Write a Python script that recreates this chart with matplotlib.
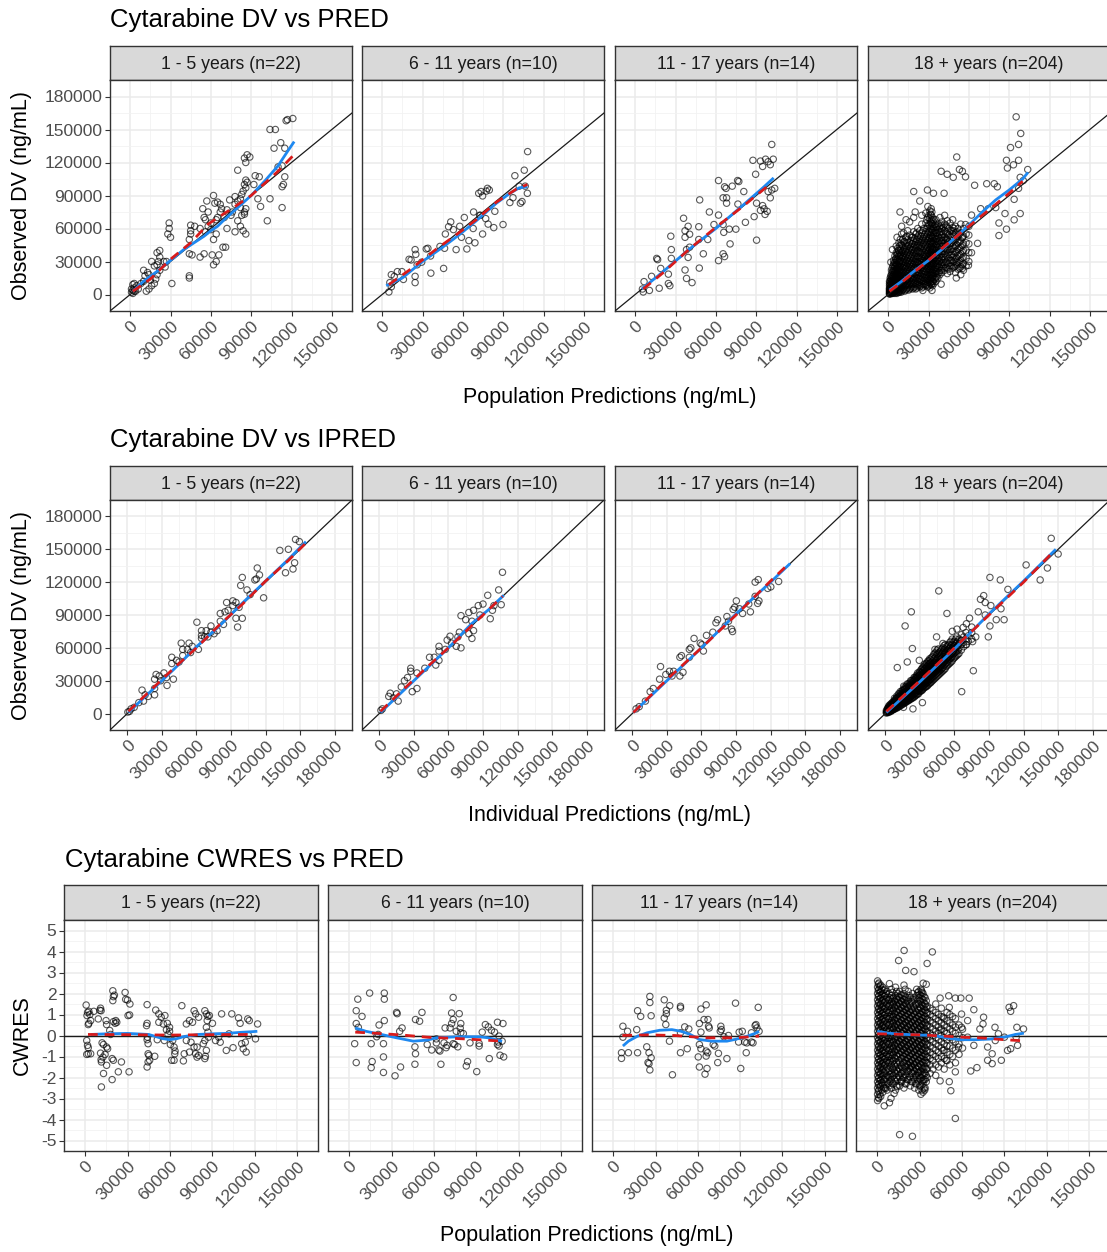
import matplotlib.pyplot as plt
import numpy as np

plt.rcParams['font.family'] = ['Liberation Sans', 'DejaVu Sans']

# ---- data (all concentrations in thousands of ng/mL) ----
STRIPS = ['1 - 5 years (n=22)', '6 - 11 years (n=10)', '11 - 17 years (n=14)', '18 + years (n=204)']
TITLES = ['Cytarabine DV vs PRED', 'Cytarabine DV vs IPRED', 'Cytarabine CWRES vs PRED']
XLABELS = ['Population Predictions (ng/mL)', 'Individual Predictions (ng/mL)', 'Population Predictions (ng/mL)']
YLABELS = ['Observed DV (ng/mL)', 'Observed DV (ng/mL)', 'CWRES']
CONC_TICKS_150 = [0, 30000, 60000, 90000, 120000, 150000]
CONC_TICKS_180 = [0, 30000, 60000, 90000, 120000, 150000, 180000]
CWRES_TICKS = [-5, -4, -3, -2, -1, 0, 1, 2, 3, 4, 5]

# DV vs PRED
pred_1_5 = [(121,160),(117,159),(116,158),(104,150),(108,150),(107,133),(112,138),(115,133),(113,117),(110,116),
            (115,107),(114,100),(113,98),(113,79),(104,87),(102,67),(97,80),(95,87),(96,107),(93,108),(92,100),
            (89,125),(86,120),(85,124),(87,127),(80,113),(86,104),(87,102),(85,100),(86,97),(84,94),(83,91),
            (82,87),(80,85),(78,89),(78,82),(82,79),(86,78),(85,75),(85,73),(83,72),(80,67),(82,62),(84,58),
            (86,55),(78,57),(76,75),(74,86),(75,72),(72,77),(70,70),(72,60),(69,43),(71,43),(66,36),(64,30),
            (62,27),(61,36),(62,50),(64,55),(60,59),(58,62),(56,57),(56,68),(57,85),(58,75),(62,90),(65,84),
            (63,83),(67,82),(68,78),(67,75),(65,70),(64,68),(60,65),(55,70),(54,78),(52,60),(48,62),(45,63),
            (45,58),(45,55),(44,50),(44,37),(46,36),(55,37),(52,34),(44,15),(44,17),(31,10),(29,65),(29,60),
            (28,55),(30,52),(22,40),(20,38),(22,34),(21,30),(20,27),(22,22),(20,18),(19,14),(18,10),(16,8),
            (14,5),(12,3),(13,20),(10,22),(11,17),(14,18),(18,26),(16,30),(25,30),(26,25),(27,30),(15,13),
            (10,12),(5,8),(3,6),(2,4),(1,2),(2,9),(3,10),(4,3),(6,5),(8,10),(2,1),(1,5),(3,3)]
pred_6_11 = [(108.2,129.9),(105.7,113),(98.7,108),(101.9,98.5),(106.4,98.5),(108,92),(104,84.5),(102.8,83),
             (97.3,88),(95,83.6),(89.9,63.6),(83,60.8),(78.8,64),(77,69),(83.8,75.6),(77.4,94),(78.3,96.5),
             (79.7,95),(73.6,93.6),(71.8,92),(74.7,89.6),(73,72),(68,75),(61.1,70),(67.7,60),(74.7,55),
             (64.5,49),(69,47),(63,41.4),(55,40.8),(57.7,62),(51,66),(49.4,61.6),(47,55),(46.4,42),(45.7,23.7),
             (36.2,19.4),(34,42),(32.8,41.4),(24.5,40.8),(25,36.5),(20,32),(21.5,31.4),(26,27),(24.5,16.5),
             (24.5,10.8),(15.8,13.7),(14.7,20.8),(9,16.5),(6.8,18),(5.7,10.8),(5,2.3),(6.8,7),(43,43.7),
             (53,59),(72.5,72),(59,52),(36,35),(29.4,29.4),(11.3,20.8)]
pred_11_17 = [(101.6,136.4),(87.6,122),(93.2,121.3),(97,123),(98.9,120.7),(102.7,123),(100.5,118),(94.8,116.4),
              (89.6,109.3),(77.1,102.7),(76.2,103.6),(72.2,98.5),(66.5,97.9),(67.6,96.5),(62,103.6),(80.8,93.6),
              (65.4,87.9),(68,87.9),(68,83),(76.4,82.2),(90.3,83),(94.8,80.8),(95.9,77.9),(98.2,75.6),(96.6,72.8),
              (93.2,76.5),(88.5,70.8),(100.5,87.9),(98.9,93.6),(103.8,96.5),(101.6,95),(62,72.2),(55.2,75),
              (48,86),(65.4,63.6),(65.9,56.5),(70,59.4),(74.9,59.4),(82,65.6),(70.6,46),(90.3,49.4),(65.4,37),
              (66.5,34.5),(62,30.8),(54,50),(47.3,50),(47.7,24),(50.7,37),(39.4,62),(36,69.3),(37.1,57.9),
              (37.1,52),(40.5,54.8),(26.9,40.8),(38.2,40.8),(40.5,43),(39.4,33.7),(37.1,22.3),(42.3,10.8),
              (38.2,14.6),(26.5,53),(26.9,32.8),(16,32.8),(16.7,31.7),(19,23.7),(24.7,18.5),(24.7,10),(25.8,8),
              (17.9,5.7),(12.2,16.5),(6.6,11.7),(5.4,5),(6,2.3),(10.6,3.7),(47.3,61.6),(58.6,63.6)]
pred_18_out = [(95.2,161.5),(98.6,146.4),(91,133.6),(97,136.4),(88,122),(97,122),(93.2,117.9),(88.7,115),
               (103.8,113.6),(98.2,106.5),(100.5,103.6),(97,96.5),(93.7,86.5),(98.2,73.6),(93.7,67.9),(86.9,73.6),
               (82.4,65),(88,59.4),(82.4,53.6),(80,79),(74.4,77.9),(73.3,100.7),(78.9,100.7),(81.2,97.9),
               (64.3,99.3),(57.5,107),(55.2,112),(53,113.6),(51,125),(39.4,112),(43.9,109.3),(48.4,106.5),
               (41.6,92),(19,93.6),(29.2,95),(33.7,92),(23.5,85),(20.1,75),(8.8,75),(13.3,68),(6.6,52),(3.2,40.8),
               (2,29.4),(50.7,15),(55.2,23.7),(59.7,26.5),(62,38),(66.5,46.5),(50.7,29.4),(43.9,49.4),(48.4,58),
               (55.2,52),(57.5,63.6),(62,72.2),(68.8,78),(39.4,9.4),(32.6,3.7),(25.8,3.7)]
pred_18_dense = {
    1: [0.5,1,2,3,4,5,6,8,10,12], 2: [1,2,3,5,7,9,11,14,17], 3: [1,2,4,6,8,10,13,16,20,24],
    4: [2,3,5,7,9,12,15,18,22,27,31], 5: [1,3,6,8,11,14,17,21,25,29,35],
    6: [2,4,7,10,13,16,20,24,28,33,38,44], 7: [3,5,8,11,15,19,23,27,32,37,42],
    8: [2,6,9,12,16,20,25,30,35,40,47], 9: [4,7,11,15,18,22,26,31,36,42,50],
    10: [3,6,10,14,19,23,28,33,38,45,55,62], 11.5: [5,9,13,17,21,26,30,35,41,48,56],
    13: [4,8,12,16,20,24,29,34,39,44,52], 14.5: [6,10,14,19,23,28,33,38,44,50,58],
    16: [5,9,13,17,22,27,31,36,42,47,54,66], 17.5: [7,11,15,20,25,29,34,40,46,52],
    19: [6,10,14,19,24,28,33,38,43,49,57,70], 20.5: [5,9,13,18,23,27,32,37,42,48,55],
    22: [8,12,17,21,26,30,35,40,46,52,60], 23.5: [7,11,15,20,25,30,34,39,45,50,58],
    25: [6,10,14,19,24,29,33,38,44,49,56,64,72], 26.5: [9,13,18,22,27,31,36,42,47,53,60],
    28: [8,12,16,21,26,30,35,40,45,51,57,65,74], 29.5: [7,11,15,20,24,29,34,38,43,49,55,62,70,80],
    31: [6,10,14,18,23,27,32,36,41,46,51,57,63,69,76], 32: [9,13,17,21,26,30,35,39,44,48,53,59,65,72,78],
    33: [8,12,16,20,25,29,33,38,42,47,52,58,64,70], 34: [10,14,19,23,28,32,37,41,46,51,56,62,68],
    35.5: [12,16,21,25,30,35,40,45,50,56,61,68], 37: [15,19,24,28,33,38,43,48,53,59,64],
    38.5: [18,22,27,31,36,41,46,51,57,62,70], 40: [20,25,29,34,39,44,49,54,60,66],
    42: [22,27,32,37,42,47,52,58,64,72], 44: [19,24,29,34,40,45,50,55,61,67],
    46: [21,26,31,36,41,46,52,58,65], 48: [24,29,34,39,44,49,55,61,68], 50: [20,26,32,38,44,50,56,62],
    52: [23,29,35,41,47,53,60], 54: [18,25,31,37,43,49,56,64], 56: [22,28,34,40,46,53,60],
    58: [26,33,40,47,55], 60: [30,38,46,54,62]}
pred_18_core = {
    1.5: [0.5,2,4,6,9,12,15], 2.5: [2,4,6,8,11,14,18,22], 3.5: [1,3,5,7,10,13,17,21,26],
    4.5: [2,4,7,10,13,16,20,24,29], 5.5: [3,5,8,11,14,18,22,27,32], 6.5: [1,4,6,9,12,15,19,23,27,31,36],
    7.5: [2,5,8,11,14,18,22,26,30,35,40], 8.5: [3,6,10,14,17,21,25,29,34,38,44],
    9.5: [2,5,9,13,17,21,25,30,35,40,46], 10.8: [4,8,12,16,20,25,29,34,39,44,50],
    12.2: [3,7,11,15,19,23,27,32,37,42,48], 13.8: [5,9,13,17,21,26,31,36,41,47,53],
    15.2: [4,8,12,16,21,25,30,35,40,45], 16.8: [6,10,15,19,24,28,33,38,43,49],
    18.2: [5,9,13,17,22,27,31,36,41,46,52], 19.8: [7,11,16,20,25,30,35,40,45,51],
    21.2: [6,10,15,20,24,29,34,39,44,50,56], 22.8: [9,14,19,23,28,33,38,43,48,54],
    24.2: [8,13,17,22,27,32,37,42,47,53], 25.8: [7,12,16,21,26,31,35,40,46,51,58],
    27.2: [10,15,20,24,29,34,38,44,49,55], 28.8: [9,14,18,23,28,32,37,42,47,53,60,68],
    30.2: [8,13,17,22,26,31,36,40,45,51,57,64,72], 31.5: [11,15,20,25,29,34,38,43,48,54,60,66,73],
    32.5: [10,15,19,23,28,32,37,41,46,51,56,62,68,75], 33.5: [12,17,22,27,31,35,40,44,49,54,60,66],
    35: [14,19,23,28,33,38,43,48,53,58,64], 36.2: [16,21,26,31,36,41,46,51,56,62],
    38: [20,25,30,34,39,44,49,55,60], 39.5: [22,27,32,37,42,47,52,57,63], 41: [24,29,34,39,44,49,55,61],
    43: [25,30,36,41,46,51,57,63], 45: [23,28,33,38,43,48,54,60], 47: [26,31,36,41,47,52,58],
    49: [25,30,36,42,48,54,60], 51: [27,33,39,45,51,57], 53: [24,30,36,42,48,55], 55: [27,33,39,45,52]}

pred_blue = [
    [(2,3),(10,12),(20,21),(30,31),(40,41),(50,49),(55,53),(60,58),(65,62),(70,68),(80,79),(90,90),(100,103),(110,117),(117,130),(122,139)],
    [(3,8),(15,15),(30,30),(45,43),(57,54),(70,67),(85,83),(95,92),(102,97),(108,98)],
    [(5,5),(20,20),(40,41),(60,60),(80,81),(95,97),(103,106)],
    [(1,4),(10,12),(20,22),(30,31),(40,41),(50,52),(60,63),(70,75),(80,86),(90,95),(100,105),(104,111)]]
pred_red = [
    [(2,3),(15,14),(30,32),(45,47),(58,64),(68,72),(78,80),(90,90),(100,101),(110,112),(121,126)],
    [(5,9),(20,22),(40,41),(57,56),(70,68),(85,84),(100,96),(108,100)],
    [(6,5),(20,19),(40,41),(60,61),(80,80),(99,99)],
    [(1,3),(10,11),(20,21),(30,31),(40,42),(50,52),(60,62),(70,72),(80,82),(90,92),(100,103)]]

# DV vs IPRED
ipred_1_5 = [(146,159),(149.3,157),(132.4,149),(139.8,150),(137.3,128.6),(143.8,132),(145.2,137.7),(112.8,132.9),
             (114.7,126.6),(99.8,124.3),(98.4,117),(112,122.9),(110.7,122),(118.3,105.7),(103.9,112.9),(86.2,101.4),
             (91.6,102.9),(94.3,101.4),(97,97),(94.3,87),(95.7,79),(99.8,87),(87.5,94.3),(80.7,91.4),(83.5,81.4),
             (78,75.7),(72.6,80),(68.5,75.7),(67.1,70),(64.4,68.6),(60.4,83.4),(56.3,61.4),(52.2,58.6),(48.1,58.6),
             (46.8,64.3),(48.1,52.9),(42.7,48.6),(38.6,51.4),(38.6,45.7),(31.8,37.1),(27.7,34.3),(25,35.7),
             (23.7,31.4),(34,32.9),(40,31.4),(34.5,25.7),(23.7,22.9),(23.7,17.1),(15.5,17.1),(12.8,21.4),
             (14.1,11.4),(10,10),(6,5.7),(3.3,4.3),(1.9,2),(0.5,1.4),(69.9,70),(75.3,72.9),(72.6,74.3),(80.7,84.3),
             (61.7,58.6),(54.9,55.7),(44.9,47.1),(29,30),(18.2,15.7),(53.6,64.3),(64.4,71.4),(84.8,92.9),
             (91.6,98.6),(106.6,108.6),(64.4,75.7)]
ipred_6_11 = [(106.9,129),(103.6,112.9),(94.1,108),(105.8,99.4),(98.2,94.3),(96.3,86.6),(99.5,98.6),(85.9,98.6),
              (81.8,94.3),(77.7,92.3),(70.9,89.4),(75,85.7),(80.4,84.3),(81.8,75.7),(77.7,72.9),(80.4,68.6),
              (69.5,74.3),(68.2,70),(66.8,61.4),(70.9,60),(61.4,70.6),(51.8,61.4),(51.8,57.1),(47.7,51.4),
              (51.8,48.6),(49,44.3),(39.5,41.4),(27.3,41.4),(27.3,38.6),(32.7,37.1),(24.5,32.9),(21.8,30),
              (32.7,22.9),(28.6,20),(19.1,24.3),(15,18),(16.4,11.4),(9.5,18.6),(8.2,15.7),(12.3,14.3),(2.7,4.3),
              (1.4,2.9),(57.3,58.6),(58.9,67.1),(62.7,64.3),(43.6,51.4),(87.3,90),(90,100)]
ipred_11_17 = [(127,120.6),(109.3,122.3),(106.6,120),(109.9,102.9),(108.8,100.6),(102.5,92.9),(106.6,107),
               (90.3,102.9),(88.9,97.1),(87.5,95.1),(93,95.7),(86.2,77.1),(87,74.9),(82.1,88.6),(83.5,84.3),
               (74,85.7),(72.6,82.9),(69.9,74.3),(64.4,71.4),(59,64.3),(61.7,57.1),(50.8,60),(49.5,58.6),
               (53.6,68.6),(60.4,62.9),(42.7,52.9),(41.3,51.4),(44,37.7),(41.3,34.3),(34.5,34.3),(29.1,35.7),
               (32.3,38.6),(24.5,42.9),(23.7,31.4),(18.2,22.9),(15.5,20),(11.4,11.4),(6,6.3),(3.3,4.3),
               (35.9,38.6),(49.5,51.4),(80.7,80),(95.7,91.4),(101.1,100),(117.5,114.3),(120.2,115.7)]
ipred_18_out = [(144,160),(150,145.7),(140.7,132.9),(134.4,122),(122.2,135.7),(90.8,124.3),(99.8,122),(106.4,113.4),
                (46.4,112),(22.6,92.9),(53.5,91.4),(17.2,80),(23.5,59.4),(10.4,42),(19.1,47.1),(66.3,20),(76.4,39.1),
                (89.4,70),(85.4,107.7),(86.7,101.4),(82.6,104.3),(91.6,98.6),(100.4,95.7),(103.1,85.7),(96.3,85.7),
                (90.8,80),(86.7,90),(80.7,92.9),(73.1,87.1),(70.4,82),(67.6,78.6),(62.2,77.1),(58.1,75.1),(78.5,70),
                (75.8,65.7),(70.4,62.9),(44.5,70),(43.1,58.6),(29.5,48.6),(26.7,32.9),(32.2,10),(24,4.3),(15.8,5.7),
                (51.3,55.7)]
ipred_18_dense = {
    1: [0.5,1,2,3], 2: [1,2,3,4,5], 3: [1,2,3,4,6,7], 4: [2,3,4,5,6,8], 5: [2,3,5,6,7,9],
    6: [3,4,5,7,8,10], 7: [4,5,6,8,9,11], 8: [4,6,7,9,10,12,14], 9: [5,7,8,10,11,13],
    10: [5,7,9,10,12,14,16], 11.5: [6,8,10,12,13,15,18], 13: [7,9,11,13,15,17,20],
    14.5: [8,10,12,14,16,18,21], 16: [9,11,13,15,17,19,22,25], 17.5: [10,12,14,16,18,20,23],
    19: [11,13,15,17,19,21,24,27], 20.5: [12,14,16,18,20,23,25], 22: [13,15,18,20,22,24,27,30],
    23.5: [14,17,19,21,24,26,29], 25: [15,18,20,23,25,27,30,33], 26.5: [17,19,22,24,27,29,32],
    28: [18,21,23,26,28,31,34,37], 29.5: [20,22,25,27,30,32,35,38], 31: [21,24,26,29,31,34,37,40],
    32.5: [22,25,28,30,33,36,39,42], 34: [24,27,29,32,35,38,41,45], 35.5: [25,28,31,34,36,39,42,46],
    37: [26,29,32,35,38,41,44,48], 38.5: [28,31,34,37,40,43,46,50], 40: [29,32,35,38,41,44,47,51],
    42: [31,34,37,40,43,46,50,54], 44: [33,36,39,42,45,48,52,56], 46: [35,38,41,44,47,51,55,59],
    48: [37,40,43,47,50,53,57], 50: [39,42,46,49,52,56,60,64], 52: [41,45,48,52,55,59,63],
    54: [44,47,51,54,58,62], 56: [46,50,53,57,60,65], 58: [48,52,55,59,63,68], 60: [51,55,59,62,66],
    62: [53,57,61,65,70], 64: [55,60,64,68], 66: [58,63,67,72], 68: [61,65,70], 70: [63,68,74],
    72: [66,71], 75: [68,74,79]}
ipred_18_core = {
    2.5: [1.5,2.5,3.5,5], 3.5: [2,3,4.5,5.5], 4.5: [2.5,3.5,5,6.5,7.5], 5.5: [3,4,5.5,7,8],
    6.5: [3.5,5,6,7.5,9], 7.5: [4,5.5,7,8.5,10], 8.5: [5,6.5,8,9.5,11], 9.5: [5.5,7,8.5,10,12,14],
    10.8: [6,8,9.5,11,13,15], 12.2: [7,9,10.5,12,14,16,18], 13.8: [8,10,12,14,15.5,17,19],
    15.2: [9,11,13,15,17,19,21], 16.8: [10,12,14,16,18,20,22,24], 18.2: [11,13,15,17,19,21,23,25],
    19.8: [12,14,16,18,20,22,24,27], 21.2: [13,15,17,19,21,24,26,28], 22.8: [14,16,18,21,23,25,27,30],
    24.2: [15,17,20,22,24,27,29,31], 25.8: [16,18,21,23,26,28,31,33], 27.2: [17,20,22,25,27,30,32,35],
    28.8: [18,21,24,26,29,31,34,36], 30.2: [20,23,25,28,30,33,35,38], 31.8: [21,24,27,29,32,35,38,41],
    33.2: [23,25,28,31,34,37,40,43], 34.8: [24,27,30,33,35,38,41,44], 36.2: [25,28,31,34,37,40,43,46],
    37.8: [27,30,33,36,39,42,45,48], 39.2: [28,31,34,37,40,43,46,49], 41: [30,33,36,39,42,45,48,52],
    43: [32,35,38,41,44,47,51,55], 45: [34,37,40,43,46,50,54,58], 47: [36,39,42,46,49,52,56],
    49: [38,41,45,48,51,55,59], 51: [40,44,47,50,54,58,62], 53: [43,46,50,53,57,61],
    55: [45,49,52,56,59,63], 57: [47,51,54,58,62,66], 59: [50,54,57,61,65], 61: [52,56,60,64,68],
    63: [54,58,62,66]}

ipred_blue = [
    [(1,1),(20,20),(40,40),(60,61),(80,80),(100,101),(120,121),(140,141),(155,157)],
    [(1,1),(20,20),(40,40),(60,60),(80,82),(95,95),(108,108)],
    [(1,1),(30,30),(60,60),(90,91),(120,120),(137,137)],
    [(1,1),(30,29),(60,59),(90,91),(120,121),(148,150)]]
ipred_red = [
    [(1,2),(20,21),(40,41),(60,60),(80,81),(100,100),(120,121),(140,140),(158,159)],
    [(1,2),(20,21),(40,41),(60,60),(80,80),(107,107)],
    [(1,1),(30,31),(60,60),(90,90),(120,121),(136,137)],
    [(1,2),(30,30),(60,60),(90,90),(120,120),(146,148)]]

# CWRES vs PRED (x in thousands, y in CWRES units)
cwres_1_5 = [(0.7,1.45),(1.7,1.1),(2.6,1.15),(3.3,1.0),(1.3,0.95),(2.6,0.58),(2.2,0.52),(3.9,0.71),(1.1,-0.24),
             (1.7,-0.47),(2.2,-0.58),(2.2,-0.87),(1.1,-0.9),(3.9,-0.87),(6.1,1.15),(10.4,1.2),(10.9,1.3),(11.3,1.18),
             (9.3,0.79),(11.5,-2.45),(12,-0.35),(13,-0.43),(12.6,-1.03),(11.3,-1.15),(11.5,-1.26),(10.9,-0.84),
             (14.8,0.71),(15.2,0.52),(15.2,-0.55),(15.9,-0.63),(14.1,-0.9),(15.2,-1.42),(13,-1.81),(19.1,-2.1),
             (19.6,2.13),(20.7,1.92),(20,1.85),(19.6,1.66),(21.7,0.71),(21.3,0.58),(20,0.66),(19.1,-1.1),(20,-1.18),
             (22.4,0.63),(23.5,-1.73),(25.7,-1.26),(28.3,2.05),(28.7,1.72),(30,1.69),(31.7,1.5),(30.4,0.95),
             (31.5,0.98),(31.1,-1.73),(18,0.05),(17.4,0.24),(43.9,1.47),(43.9,0.58),(43.5,0.47),(44.1,-0.08),
             (43.9,-0.2),(44.6,-0.39),(44.6,-0.87),(45.2,-0.95),(45.7,-1.18),(44.6,-1.26),(43.9,-1.5),(49.3,-0.99),
             (50,1.21),(52.2,1.03),(53.9,0.87),(56.5,0.95),(52.2,0.63),(55.4,0.55),(58.2,0.58),(59.8,0.39),(59.8,0.2),
             (57.6,0.27),(58.7,0.05),(51.1,-0.2),(56.1,-0.24),(60.4,-0.43),(62,-0.24),(63,-0.55),(63.7,-0.74),
             (63.5,-0.87),(63,-1.18),(61.3,-1.18),(68.5,1.42),(69.6,-1.21),(70.2,-0.87),(71.7,-0.24),(71.7,0.55),
             (73.9,0.71),(76.1,0.63),(77.2,1.18),(78.3,1.03),(80.4,0.87),(79.3,-0.55),(77.2,-0.55),(75,-0.32),
             (73.9,-0.79),(78.3,-0.87),(79.3,-1.03),(80.4,-0.95),(84.8,1.18),(85.9,1.03),(87,0.91),(86.5,0.71),
             (88,0.95),(85.9,0.39),(87,0.16),(87.4,-0.08),(84.8,-0.24),(83.7,-0.39),(85.9,-0.71),(85.2,-0.99),
             (84.8,-1.1),(90.2,0.58),(92.4,-0.24),(95.7,-0.32),(96.7,1.03),(100,-0.71),(103.9,1.03),(104.8,-0.58),
             (108.7,0.84),(109.8,0.58),(110.9,-0.39),(112,-0.63),(113.5,-0.32),(114.1,-0.79),(115.2,0.79),
             (116.3,0.71),(115.7,0),(120.7,-0.16),(122.2,0.55),(94.6,-0.08),(102,0.08)]
cwres_6_11 = [(6.1,1.73),(14.5,2.02),(24.9,2.02),(24.9,1.73),(5,1.18),(9.1,0.91),(5,0.57),(6.5,0.39),(33.6,1.1),
              (34,1.04),(47,0.76),(49.9,0.68),(51.6,1.1),(24.9,0.71),(21.2,0.5),(20.6,0.05),(19.5,-0.06),(37.5,0.36),
              (35.8,0.2),(3.9,-0.39),(15.6,-0.39),(24.3,-0.39),(5,-1.29),(16.3,-1.24),(15.6,-1.53),(24.3,-1.02),
              (24.3,-1.76),(32.5,-1.92),(36.4,-1.5),(46.6,-0.54),(47,-0.87),(46.6,-1.37),(55.3,-0.43),(58.5,-0.69),
              (61.8,-0.35),(63.5,-0.69),(64.3,-0.74),(67.2,-0.35),(68.7,-0.58),(69.4,-0.47),(65,-1.37),(61.8,-0.16),
              (68,0.36),(71.5,0.36),(72.6,1.07),(73.7,1.81),(78,1.04),(73.7,0.76),(72.6,0.57),(79.1,0.57),
              (78.7,0.35),(75.9,0.2),(73.7,-0.39),(74.8,-0.43),(77,-0.54),(79.1,0.13),(80.9,0.09),(85.6,-0.35),
              (83.9,-1.24),(83,-1.45),(90.4,-1.72),(92.1,-0.38),(92.1,-0.5),(94.3,0.16),(96.5,0.52),(98.6,0.41),
              (100.8,0.25),(103,0.16),(99.3,-1.1),(105.1,0.63),(109,0.57),(106.2,-0.03),(105.6,-0.31),(106.2,-0.5),
              (106.9,-0.94),(109.5,-1.02),(108.4,-0.27),(105.1,-0.43)]
cwres_11_17 = [(26,1.86),(26,1.57),(36.2,1.7),(40.1,1.42),(17.3,1.18),(19.5,0.91),(26.9,0.94),(47.7,1.39),(47.7,1.31),
               (37.7,1.2),(37.7,1.04),(36.2,0.83),(37.3,0.52),(62.2,1.26),(65.9,1.46),(86.7,1.54),(102.8,1.34),
               (6.9,0.44),(10.2,0.2),(16.7,0.28),(6.9,-0.08),(5.9,-0.82),(5.9,-1.09),(10.8,-0.82),(17.3,-0.82),
               (23.8,-0.54),(25.4,-0.82),(26.9,-1.06),(24.7,-1.29),(26,-1.64),(25.4,-1.34),(39.9,-0.27),(42,-1.87),
               (47.7,-0.82),(52.5,-0.63),(50.7,0.41),(53.6,0.31),(47.7,0.13),(61.1,0.57),(62.2,0.16),(61.1,-0.43),
               (62.2,-0.63),(60.3,-1.02),(61.1,-1.5),(65.1,-1.84),(66.5,-1.57),(65.9,-0.74),(67,-0.82),(65.9,-0.98),
               (67.2,0.76),(67.6,0.44),(68.1,0.36),(64.4,0.76),(70.9,-0.43),(72,-0.5),(74.6,-0.85),(74.1,-1.29),
               (76.3,0.44),(76.7,0.28),(75.9,0.2),(78.5,-0.06),(80.6,-1.1),(81.7,0),(89.3,0.16),(90.4,-1.57),
               (91.5,0.2),(88.9,-0.31),(93.2,-0.31),(94.7,-0.35),(94.3,-0.82),(98,0.13),(98,-0.31),(99.1,-0.35),
               (100.6,0.47),(101.2,0.52),(101.9,0.36),(103.4,0.2)]
cwres_18_out = [(15.9,-4.72),(25,-4.8),(55.4,-3.95),(19.1,4.05),(39.1,3.98),(15.2,3.57),(35.4,3.43),(20.2,3.1),
                (26.1,3.04),(32.6,2.49),(8.7,2.47),(44.6,1.78),(50.7,1.89),(55.4,1.78),(59.3,1.78),(65.2,1.78),
                (68.5,1.23),(75.4,0.87),(83.5,0.39),(93.5,1.34),(96.7,1.42),(94.6,1.15),(99,0.39),(103.7,0.31),
                (5,-3.35),(9.8,-2.99),(8.7,-3.2),(6.1,-2.52),(44.6,-2.16),(51.1,-2.2),(52.2,-2.63),(66.3,-1.69),
                (70.7,-1.53),(78.3,-1.18),(81.5,-1.34),(88,-1.18),(92.4,-0.71),(94.6,-0.63),(99.5,-0.47),(98.5,-0.08),
                (90.2,-0.08),(85.9,0.08),(83.7,-0.24),(72.8,0.31),(75,0.55),(78.3,-0.55),(81.5,-0.87),(68.5,-0.47),
                (64.1,-0.08),(59.8,0.39),(64.1,0.71),(59.8,1.02),(57.6,-0.55),(55.4,-1.73),(48.9,-1.18),(46.7,-0.71),
                (44.6,0.24),(46.7,0.87),(51.1,1.34),(33.7,-2.6),(32.6,-2.13),(29.3,-1.73),(23.9,-1.5),(17.4,-2.13),
                (14.1,-2.44),(12,-2.76),(34.8,2.44),(31.5,2.13)]
cwres_18_dense = {
    0.3: [-3.1,-2.8,-2.5,-2.2,-1.9,-1.6,-1.3,-1.0,-0.7,-0.4,-0.1,0.2,0.5,0.8,1.1,1.4,1.7,2.0,2.3,2.6],
    1.2: [-3.0,-2.6,-2.3,-2.0,-1.7,-1.4,-1.1,-0.8,-0.5,-0.2,0.1,0.4,0.7,1.0,1.3,1.6,1.9,2.2,2.5],
    2.5: [-2.9,-2.4,-2.1,-1.8,-1.5,-1.2,-0.9,-0.6,-0.3,0.0,0.3,0.6,0.9,1.2,1.5,1.8,2.1,2.4],
    4: [-2.7,-2.3,-1.9,-1.6,-1.3,-1.0,-0.7,-0.4,-0.1,0.2,0.5,0.8,1.1,1.4,1.7,2.0,2.3],
    5.5: [-2.5,-2.1,-1.8,-1.4,-1.1,-0.8,-0.5,-0.2,0.1,0.4,0.7,1.0,1.3,1.6,1.9,2.2],
    7: [-2.6,-2.2,-1.9,-1.5,-1.2,-0.9,-0.6,-0.3,0.0,0.3,0.6,0.9,1.2,1.5,1.8,2.1],
    8.5: [-2.4,-2.0,-1.7,-1.3,-1.0,-0.7,-0.4,-0.1,0.2,0.5,0.8,1.1,1.4,1.7,2.0],
    10: [-2.5,-2.1,-1.8,-1.4,-1.1,-0.8,-0.5,-0.2,0.1,0.4,0.7,1.0,1.3,1.6,1.9,2.2],
    11.5: [-2.3,-1.9,-1.6,-1.2,-0.9,-0.6,-0.3,0.0,0.3,0.6,0.9,1.2,1.5,1.8],
    13: [-2.6,-2.2,-1.8,-1.5,-1.1,-0.8,-0.5,-0.2,0.1,0.4,0.7,1.0,1.3,1.6,1.9,2.3],
    14.5: [-2.1,-1.7,-1.4,-1.0,-0.7,-0.4,-0.1,0.2,0.5,0.8,1.1,1.4,1.7,2.0],
    16: [-2.4,-2.0,-1.6,-1.3,-0.9,-0.6,-0.3,0.0,0.3,0.6,0.9,1.2,1.5,1.8,2.1],
    17.5: [-2.2,-1.8,-1.5,-1.1,-0.8,-0.5,-0.2,0.1,0.4,0.7,1.0,1.3,1.6,1.9],
    19: [-2.5,-2.0,-1.7,-1.3,-1.0,-0.7,-0.4,-0.1,0.2,0.5,0.8,1.1,1.4,1.7,2.0,2.4],
    20.5: [-2.3,-1.9,-1.5,-1.2,-0.9,-0.6,-0.3,0.0,0.3,0.6,0.9,1.2,1.5,1.8],
    22: [-2.1,-1.7,-1.4,-1.1,-0.8,-0.5,-0.2,0.1,0.4,0.7,1.0,1.3,1.7,2.1],
    23.5: [-2.4,-2.0,-1.6,-1.3,-1.0,-0.7,-0.4,-0.1,0.2,0.5,0.8,1.1,1.4,1.8],
    25: [-2.2,-1.8,-1.5,-1.2,-0.9,-0.6,-0.3,0.0,0.3,0.6,0.9,1.2,1.6,2.0],
    26.5: [-2.5,-2.1,-1.7,-1.4,-1.1,-0.8,-0.5,-0.2,0.1,0.4,0.7,1.0,1.3,1.7],
    28: [-2.3,-1.9,-1.6,-1.3,-1.0,-0.7,-0.4,-0.1,0.2,0.5,0.8,1.1,1.5,1.9,2.2],
    29.5: [-2.6,-2.2,-1.9,-1.5,-1.2,-0.9,-0.6,-0.3,0.0,0.3,0.6,0.9,1.2,1.5,1.8,2.1],
    31: [-2.8,-2.4,-2.0,-1.7,-1.4,-1.1,-0.8,-0.5,-0.2,0.1,0.4,0.7,1.0,1.3,1.6,1.9,2.2],
    32.5: [-2.7,-2.3,-1.9,-1.6,-1.3,-1.0,-0.7,-0.4,-0.1,0.2,0.5,0.8,1.1,1.4,1.7,2.0],
    34: [-2.5,-2.1,-1.8,-1.5,-1.2,-0.9,-0.6,-0.3,0.0,0.3,0.6,0.9,1.2,1.5,1.8],
    35.5: [-2.0,-1.6,-1.3,-1.0,-0.7,-0.4,-0.1,0.2,0.5,0.8,1.1,1.4],
    37.5: [-1.8,-1.4,-1.1,-0.8,-0.5,-0.2,0.1,0.4,0.7,1.0,1.3],
    39.5: [-1.6,-1.2,-0.9,-0.6,-0.3,0.0,0.3,0.6,0.9,1.2],
    41.5: [-1.9,-1.4,-1.0,-0.7,-0.4,-0.1,0.2,0.5,0.8,1.1,1.5],
    43.5: [-1.5,-1.1,-0.8,-0.5,-0.2,0.1,0.4,0.7,1.0],
    45.5: [-1.3,-1.0,-0.6,-0.3,0.0,0.3,0.6,0.9,1.3],
    47.5: [-1.6,-1.1,-0.7,-0.4,-0.1,0.2,0.5,0.8],
    49.5: [-1.2,-0.8,-0.5,-0.2,0.1,0.4,0.7,1.1],
    51.5: [-1.4,-0.9,-0.5,-0.1,0.3,0.6,1.0],
    53.5: [-1.0,-0.6,-0.2,0.2,0.5,0.9],
    55.5: [-1.3,-0.7,-0.3,0.1,0.4,0.8],
    58: [-0.9,-0.4,0.0,0.5],
    60.5: [-0.6,-0.1,0.3]}
cwres_18_core = {
    0.8: [-2.95,-2.65,-2.35,-2.05,-1.75,-1.45,-1.15,-0.85,-0.55,-0.25,0.05,0.35,0.65,0.95,1.25,1.55,1.85,2.15,2.45],
    1.9: [-2.8,-2.45,-2.15,-1.85,-1.55,-1.25,-0.95,-0.65,-0.35,-0.05,0.25,0.55,0.85,1.15,1.45,1.75,2.05,2.35],
    3.2: [-2.6,-2.25,-1.95,-1.65,-1.35,-1.05,-0.75,-0.45,-0.15,0.15,0.45,0.75,1.05,1.35,1.65,1.95,2.2],
    4.8: [-2.5,-2.1,-1.75,-1.45,-1.15,-0.85,-0.55,-0.25,0.05,0.35,0.65,0.95,1.25,1.55,1.85,2.15],
    6.2: [-2.35,-2.0,-1.65,-1.3,-1.0,-0.7,-0.4,-0.1,0.2,0.5,0.8,1.1,1.4,1.7,2.0],
    7.8: [-2.3,-1.95,-1.6,-1.3,-1.0,-0.7,-0.4,-0.1,0.2,0.5,0.8,1.1,1.4,1.7],
    9.2: [-2.2,-1.85,-1.5,-1.2,-0.9,-0.6,-0.3,0.0,0.3,0.6,0.9,1.2,1.5,1.8],
    10.8: [-2.3,-1.95,-1.6,-1.25,-0.95,-0.65,-0.35,-0.05,0.25,0.55,0.85,1.15,1.45,1.75,2.05],
    12.2: [-2.1,-1.75,-1.4,-1.05,-0.75,-0.45,-0.15,0.15,0.45,0.75,1.05,1.35,1.65],
    13.8: [-2.4,-2.0,-1.65,-1.3,-0.95,-0.65,-0.35,-0.05,0.25,0.55,0.85,1.15,1.45,1.75,2.1],
    15.2: [-1.9,-1.55,-1.2,-0.85,-0.55,-0.25,0.05,0.35,0.65,0.95,1.25,1.55,1.85],
    16.8: [-2.2,-1.8,-1.45,-1.1,-0.75,-0.45,-0.15,0.15,0.45,0.75,1.05,1.35,1.65,1.95],
    18.2: [-2.0,-1.65,-1.3,-0.95,-0.65,-0.35,-0.05,0.25,0.55,0.85,1.15,1.45,1.75],
    19.8: [-2.3,-1.85,-1.5,-1.15,-0.85,-0.55,-0.25,0.05,0.35,0.65,0.95,1.25,1.55,1.85,2.2],
    21.2: [-2.1,-1.7,-1.35,-1.05,-0.75,-0.45,-0.15,0.15,0.45,0.75,1.05,1.35,1.65],
    22.8: [-1.95,-1.55,-1.25,-0.95,-0.65,-0.35,-0.05,0.25,0.55,0.85,1.15,1.5,1.9],
    24.2: [-2.2,-1.8,-1.45,-1.15,-0.85,-0.55,-0.25,0.05,0.35,0.65,0.95,1.25,1.6],
    25.8: [-2.0,-1.65,-1.35,-1.05,-0.75,-0.45,-0.15,0.15,0.45,0.75,1.05,1.4,1.8],
    27.2: [-2.3,-1.9,-1.55,-1.25,-0.95,-0.65,-0.35,-0.05,0.25,0.55,0.85,1.15,1.5],
    28.8: [-2.1,-1.75,-1.45,-1.15,-0.85,-0.55,-0.25,0.05,0.35,0.65,0.95,1.3,1.7,2.05],
    30.2: [-2.4,-2.05,-1.75,-1.35,-1.05,-0.75,-0.45,-0.15,0.15,0.45,0.75,1.05,1.35,1.65,1.95],
    31.8: [-2.6,-2.2,-1.85,-1.55,-1.25,-0.95,-0.65,-0.35,-0.05,0.25,0.55,0.85,1.15,1.45,1.75,2.05],
    33.2: [-2.5,-2.1,-1.75,-1.45,-1.15,-0.85,-0.55,-0.25,0.05,0.35,0.65,0.95,1.25,1.55,1.85],
    34.8: [-2.2,-1.9,-1.6,-1.3,-1.05,-0.75,-0.45,-0.15,0.15,0.45,0.75,1.05,1.35,1.65]}

cwres_blue = [
    [(4,0.05),(15,0.08),(30,0.1),(45,0.05),(50,-0.05),(55,-0.15),(60,-0.2),(65,-0.15),(70,-0.05),(80,0.05),(90,0.08),(100,0.1),(110,0.15),(118,0.18),(122,0.2)],
    [(4.3,0.36),(11.9,0.2),(22.8,0.05),(33.6,-0.11),(45.5,-0.27),(55.3,-0.22),(61.8,-0.11),(77,-0.06),(92.1,-0.06),(98.6,-0.11),(108.4,-0.27)],
    [(6.9,-0.5),(10.8,-0.27),(17.3,-0.03),(24.1,0.13),(33,0.25),(41.6,0.28),(48.1,0.2),(54.6,0.05),(61.1,-0.19),(69.8,-0.27),(80.6,-0.27),(91.5,-0.11),(100.2,0.09),(103.4,0.2)],
    [(0,0.2),(8,0.11),(20,0.05),(40,0),(50,-0.12),(58,-0.2),(70,-0.2),(80,-0.17),(90,-0.08),(98,0.05),(104,0.11)]]
cwres_red = [
    [(2,0.05),(30,0.04),(60,0.02),(90,0.04),(120,0.05)],
    [(4.3,0.16),(22.8,0.09),(37.9,0.02),(55.3,-0.08),(81.3,-0.16),(109,-0.27)],
    [(6.5,0),(24.3,0.03),(43.8,0),(65.5,-0.11),(87.1,-0.11),(103.4,-0.03)],
    [(0,0.08),(15,0.06),(30,0.03),(45,-0.02),(60,-0.08),(75,-0.12),(90,-0.2),(103,-0.25)]]

# ---- layout (pixels) ----
W, H = 1107, 1252
BORDER = '#333333'
TICKCOL = '#4D4D4D'
GRID = '#EBEBEB'
BLUE = '#1E88F0'
RED = '#D81B1B'


def dense_points(*dicts):
    return [(x, y) for d in dicts for x, ys in d.items() for y in ys]


def rect(l, t, r, b):
    return [l / W, 1 - b / H, (r - l) / W, (b - t) / H]


fig = plt.figure(figsize=(W / 100, H / 100), dpi=100)

rows = [
    dict(title=TITLES[0], tx=110, ty=20, strip_top=46, top=80, bottom=311, lefts=[110, 362, 615, 868], width=242,
         pts=[pred_1_5, pred_6_11, pred_11_17, pred_18_out + dense_points(pred_18_dense, pred_18_core)],
         blue=pred_blue, red=pred_red, xlim=(-7300, 157000), ylim=(-8600, 189000), xticks=CONC_TICKS_150,
         yticks=CONC_TICKS_180, xminor=15000, yminor=15000, scale_y=1000, ref='identity', xl_y=397, yl_y=195),
    dict(title=TITLES[1], tx=110, ty=440, strip_top=466, top=500, bottom=730, lefts=[110, 362, 615, 868], width=242,
         pts=[ipred_1_5, ipred_6_11, ipred_11_17, ipred_18_out + dense_points(ipred_18_dense, ipred_18_core)],
         blue=ipred_blue, red=ipred_red, xlim=(-9000, 188500), ylim=(-8600, 188600), xticks=CONC_TICKS_180,
         yticks=CONC_TICKS_180, xminor=15000, yminor=15000, scale_y=1000, ref='identity', xl_y=816, yl_y=615),
    dict(title=TITLES[2], tx=65, ty=860, strip_top=885, top=920, bottom=1151, lefts=[64, 328, 592, 856], width=254,
         pts=[cwres_1_5, cwres_6_11, cwres_11_17, cwres_18_out + dense_points(cwres_18_dense, cwres_18_core)],
         blue=cwres_blue, red=cwres_red, xlim=(-8000, 157000), ylim=(-5.45, 5.45), xticks=CONC_TICKS_150,
         yticks=CWRES_TICKS, xminor=15000, yminor=0.5, scale_y=1, ref='zero', xl_y=1236, yl_y=1035),
]

for ri, row in enumerate(rows):
    fig.text(row['tx'] / W, 1 - row['ty'] / H, row['title'], fontsize=18.5, ha='left', va='center', color='black')
    for pi in range(4):
        l = row['lefts'][pi]
        r = l + row['width']
        # strip
        sax = fig.add_axes(rect(l, row['strip_top'], r, row['top']))
        sax.set_facecolor('#D9D9D9')
        sax.set_xticks([])
        sax.set_yticks([])
        for sp in sax.spines.values():
            sp.set_color(BORDER)
            sp.set_linewidth(1.0)
        sax.text(0.5, 0.47, STRIPS[pi], transform=sax.transAxes, ha='center', va='center',
                 fontsize=12.7, color='#1A1A1A')

        ax = fig.add_axes(rect(l, row['top'], r, row['bottom']))
        ax.set_xlim(*row['xlim'])
        ax.set_ylim(*row['ylim'])
        xs = row['xticks']
        ys = row['yticks']
        ax.set_xticks(xs)
        ax.set_xticklabels([str(v) for v in xs])
        ax.set_yticks(ys)
        ax.set_yticklabels([str(v) for v in ys])
        ax.set_xticks([v + row['xminor'] for v in [xs[0] - 2 * row['xminor']] + xs], minor=True)
        ax.set_yticks([v + row['yminor'] for v in [ys[0] - 2 * row['yminor']] + ys], minor=True)
        ax.grid(which='major', color=GRID, linewidth=1.1, zorder=0)
        ax.grid(which='minor', color='#F2F2F2', linewidth=0.6, zorder=0)
        ax.set_axisbelow(True)
        ax.tick_params(which='minor', length=0)
        ax.tick_params(which='major', length=3.5, width=0.8, color=BORDER, labelcolor=TICKCOL,
                       labelsize=12.5, pad=2)
        if pi > 0:
            ax.tick_params(axis='y', left=False, labelleft=False)
        for lab in ax.get_xticklabels():
            lab.set_rotation(45)
            lab.set_ha('right')
            lab.set_va('top')
            lab.set_rotation_mode('anchor')
        for sp in ax.spines.values():
            sp.set_color(BORDER)
            sp.set_linewidth(1.0)

        pts = row['pts'][pi]
        px = [p[0] * 1000 for p in pts]
        py = [p[1] * row['scale_y'] for p in pts]
        ax.scatter(px, py, s=21, facecolors='none', edgecolors=(0, 0, 0, 0.65), linewidths=0.8, zorder=3)

        if row['ref'] == 'identity':
            ax.axline((0, 0), slope=1, color='#1A1A1A', linewidth=0.9, zorder=4)
        else:
            ax.axhline(0, color='#1A1A1A', linewidth=1.0, zorder=4)

        b = row['blue'][pi]
        ax.plot([p[0] * 1000 for p in b], [p[1] * row['scale_y'] for p in b], color=BLUE, linewidth=2.0,
                zorder=5, solid_capstyle='butt')
        rd = row['red'][pi]
        ax.plot([p[0] * 1000 for p in rd], [p[1] * row['scale_y'] for p in rd], color=RED, linewidth=2.0,
                dashes=(3.5, 2.5), zorder=6)

    left0 = row['lefts'][0]
    right3 = row['lefts'][3] + row['width']
    fig.text(((left0 + right3) / 2) / W, 1 - row['xl_y'] / H, XLABELS[ri], fontsize=15.5, ha='center',
             va='center', color='black')
    fig.text(22 / W, 1 - row['yl_y'] / H, YLABELS[ri], fontsize=15.5, ha='center', va='center',
             rotation=90, color='black')

fig.savefig('out.png', dpi=100)
